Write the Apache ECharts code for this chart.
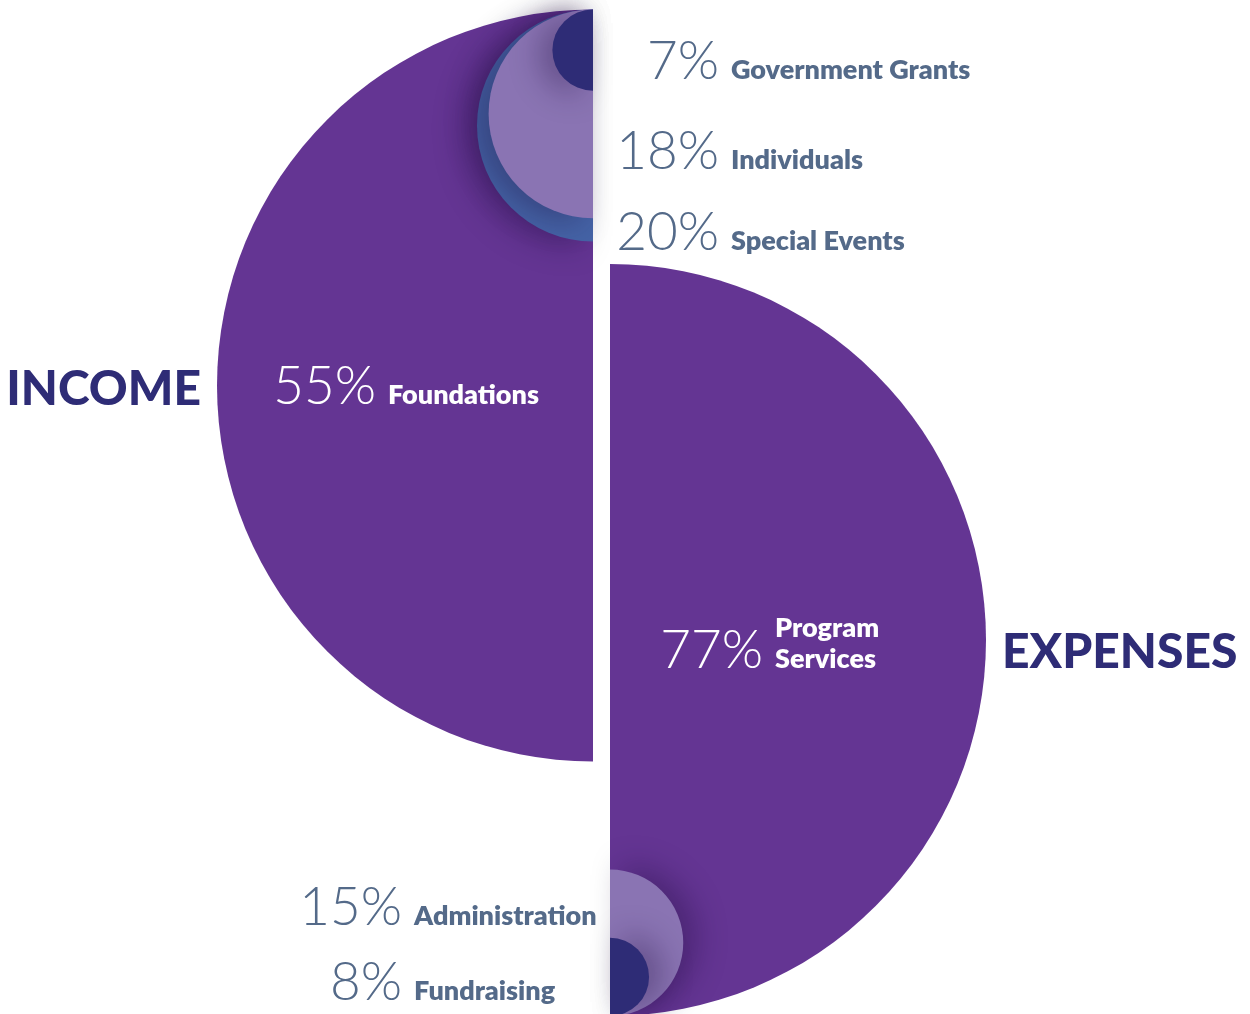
<!DOCTYPE html>
<html>
<head>
<meta charset="utf-8">
<script src="https://cdn.jsdelivr.net/npm/echarts@6/dist/echarts.min.js"></script>
<style>
  html, body { margin: 0; padding: 0; background: #ffffff; }
  #chart { width: 1250px; height: 1014px; }
</style>
</head>
<body>
<div id="chart"></div>
<script>
// ---- data ----
const incomeCategories = ['Foundations', 'Special Events', 'Individuals', 'Government Grants'];
const incomeValues = [55, 20, 18, 7];
const expenseCategories = ['Program Services', 'Administration', 'Fundraising'];
const expenseValues = [77, 15, 8];
const groupTitles = ['INCOME', 'EXPENSES'];

// ---- styles / layout ----
const incomeColors = ['#643593', '#4563a6', '#8a74b3', '#2e2c76'];
const expenseColors = ['#643593', '#8a74b3', '#2e2c76'];
const R = 376;
const incomeCenter = [593, 385.5];
const expenseCenter = [610, 640];
const incomeSmallScale = 5.8;         // px per percent for the small income circles
const expenseScale = R / expenseValues[0];

const series = [];
function half(name, value, color, cx, cy, r, left, z, shadow) {
  series.push({
    type: 'pie',
    silent: true,
    animation: false,
    center: [cx, cy],
    radius: [0, r],
    startAngle: 90,
    endAngle: left ? 270 : -90,
    clockwise: !left,
    z: z,
    label: { show: false },
    labelLine: { show: false },
    emphasis: { disabled: true },
    itemStyle: Object.assign({ color: color, borderWidth: 0 },
      shadow ? { shadowBlur: 30, shadowColor: 'rgba(25,10,55,0.34)', shadowOffsetX: left ? -13 : 13, shadowOffsetY: left ? 4 : -4 } : {}),
    data: [{ name: name, value: value }]
  });
}

// income: big half + nested circles tangent to its top
const incomeTop = incomeCenter[1] - R;
half(incomeCategories[0], incomeValues[0], incomeColors[0], incomeCenter[0], incomeCenter[1], R, true, 1, false);
for (let i = 1; i < incomeValues.length; i++) {
  const r = incomeValues[i] * incomeSmallScale;
  half(incomeCategories[i], incomeValues[i], incomeColors[i], incomeCenter[0], incomeTop + r, r, true, 1 + i, true);
}
// expenses: big half + nested circles tangent to its bottom
const expenseBottom = expenseCenter[1] + R;
half(expenseCategories[0], expenseValues[0], expenseColors[0], expenseCenter[0], expenseCenter[1], R, false, 1, false);
for (let i = 1; i < expenseValues.length; i++) {
  const r = expenseValues[i] * expenseScale;
  half(expenseCategories[i], expenseValues[i], expenseColors[i], expenseCenter[0], expenseBottom - r, r, false, 1 + i, true);
}

// ---- labels ----
const slate = '#546a89';
const labelPos = {
  'Government Grants': { x: 719, y: 79, color: slate },
  'Individuals': { x: 719, y: 169, color: slate },
  'Special Events': { x: 719, y: 250, color: slate },
  'Foundations': { x: 376, y: 404, color: '#ffffff' },
  'Program Services': { x: 763, y: 668, color: '#ffffff', twoLine: true },
  'Administration': { x: 402, y: 925, color: slate },
  'Fundraising': { x: 402, y: 1000, color: slate }
};
const BASE = 0.83; // baseline offset ratio for top-aligned text
const pctFont = { fontFamily: 'Lato', fontWeight: 300, fontSize: 53 };
const nameFont = { fontFamily: 'Lato', fontWeight: 800, fontSize: 27 };
function txt(text, x, baseline, align, fill, font) {
  graphics.push({
    type: 'text', z: 100, silent: true,
    style: Object.assign({ text: text, x: x, y: baseline - BASE * font.fontSize, align: align, verticalAlign: 'top', fill: fill }, font)
  });
}
const graphics = [];
function addLabel(name, value) {
  const p = labelPos[name];
  txt(value + '%', p.x, p.y, 'right', p.color, pctFont);
  if (p.twoLine) {
    const parts = name.split(' ');
    txt(parts[0], p.x + 12, p.y - 31, 'left', p.color, nameFont);
    txt(parts.slice(1).join(' '), p.x + 12, p.y, 'left', p.color, nameFont);
  } else {
    txt(name, p.x + 12, p.y, 'left', p.color, nameFont);
  }
}
incomeCategories.forEach((c, i) => addLabel(c, incomeValues[i]));
expenseCategories.forEach((c, i) => addLabel(c, expenseValues[i]));

const titleFont = { fontFamily: 'Lato', fontWeight: 900, fontSize: 48 };
txt(groupTitles[0], 201, 405, 'right', '#2e2c76', titleFont);
txt(groupTitles[1], 1002, 668, 'left', '#2e2c76', titleFont);

const chart = echarts.init(document.getElementById('chart'), null, { renderer: 'canvas' });
chart.setOption({
  backgroundColor: '#ffffff',
  animation: false,
  series: series,
  graphic: graphics
});
</script>
</body>
</html>
